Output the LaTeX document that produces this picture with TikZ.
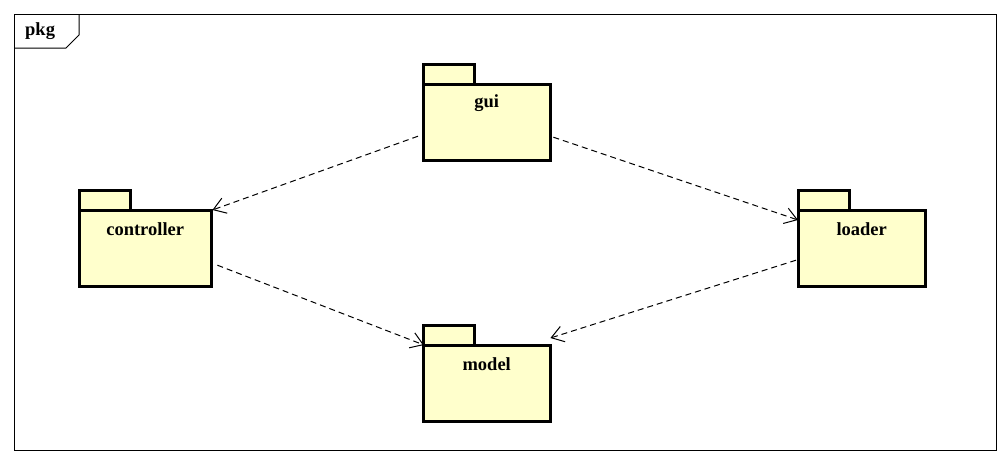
\documentclass[tikz,border=0pt]{standalone}
\usepackage{fontspec}
\setmainfont{Liberation Serif}
\usetikzlibrary{arrows.meta}
\definecolor{pkgfill}{HTML}{FFFFCC}
\tikzset{
  pkgline/.style={line width=3pt, fill=pkgfill},
  pkglabel/.style={font=\bfseries\fontsize{18.5}{20}\selectfont, inner sep=0pt},
  dep/.style={dash pattern=on 6pt off 4pt, line width=1pt, -{Straight Barb[length=12pt,width=16pt,line width=1pt]}},
}
\newcommand{\umlpkg}[5]{% name, x0, y0 (tab top), width, label
  \draw[pkgline] (#2,#3) rectangle ++(51,20);
  \draw[pkgline] (#2,#3+20) rectangle ++(#4,76);
  \node[inner sep=0pt, minimum width=#4pt, minimum height=76pt, anchor=north west] (#1) at (#2,#3+20) {};
  \node[pkglabel, anchor=center] (#1-lbl) at ([yshift=-19pt]#1.north) {#5};
}
\begin{document}
\begin{tikzpicture}[x=1pt,y=-1pt]
\useasboundingbox (0,0) rectangle (1008,464);
\fill[white] (0,0) rectangle (1008,464);
% frame
\draw[line width=1pt] (14,14) rectangle (996,450);
\draw[line width=1pt] (14,48) -- (66,48) -- (79,35) -- (79,14);
\node[font=\bfseries\fontsize{18.5}{20}\selectfont, anchor=west, inner sep=0pt] (pkglbl) at (25,31) {pkg};
% packages
\umlpkg{gui}{423}{64}{127}{gui}
\umlpkg{controller}{79}{190}{132}{controller}
\umlpkg{loader}{798}{190}{127}{loader}
\umlpkg{model}{423}{325}{127}{model}
% dependencies
\draw[dep] ([xshift=-5pt,yshift=-14pt]gui.west) -- ([xshift=1pt]controller.north east);
\draw[dep] ([xshift=3pt,yshift=-15pt]gui.east) -- ([yshift=-10pt]loader.north west);
\draw[dep] ([xshift=6pt,yshift=-17pt]controller.east) -- ([xshift=1pt]model.north west);
\draw[dep] ([xshift=-2pt,yshift=-12pt]loader.west) -- ([yshift=7pt]model.north east);
\end{tikzpicture}
\end{document}
